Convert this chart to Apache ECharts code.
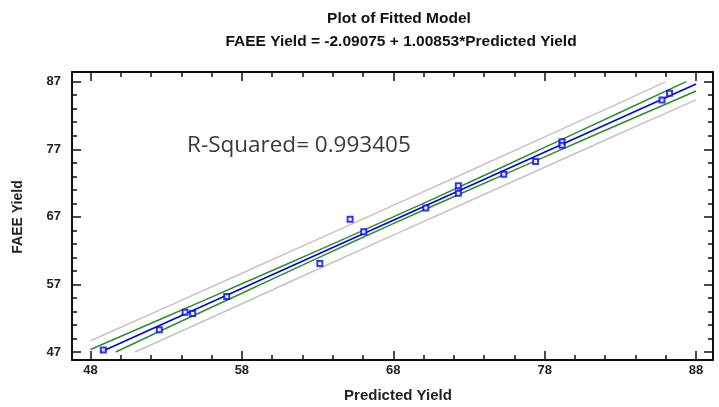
<!DOCTYPE html>
<html>
<head>
<meta charset="utf-8">
<script src="https://cdn.jsdelivr.net/npm/echarts@6/dist/echarts.min.js"></script>
<style>html,body{margin:0;padding:0;background:#fff}#c{width:719px;height:407px}</style>
</head>
<body>
<div id="c"></div>
<script>
// ---- data ----
var predicted = [48.85, 52.55, 54.25, 54.75, 57.0, 63.15, 65.15, 66.05, 70.15, 72.3, 72.3, 75.3, 77.4, 79.15, 79.15, 85.75, 86.25];
var faee      = [47.3, 50.3, 52.9, 52.7, 55.2, 60.1, 66.65, 64.8, 68.3, 71.6, 70.5, 73.3, 75.2, 78.1, 77.6, 84.3, 85.3];

var fitX = [48.67, 88];
var fitY = [47.0, 86.66];

var confUpperX = [48, 53, 58, 63, 68, 73, 78, 83, 87.35];
var confUpperY = [47.37, 52.21, 57.10, 62.00, 66.99, 72.08, 77.28, 82.47, 87.0];
var confLowerX = [49.67, 53, 58, 63, 68, 73, 78, 83, 88];
var confLowerY = [47.0, 50.51, 55.70, 60.90, 65.99, 70.98, 75.88, 80.77, 85.61];

var predUpperX = [48, 53, 58, 63, 68, 73, 78, 83, 86.0];
var predUpperY = [48.67, 53.65, 58.65, 63.66, 68.69, 73.74, 78.83, 83.90, 87.0];
var predLowerX = [50.95, 53, 58, 63, 68, 73, 78, 83, 88];
var predLowerY = [47.0, 49.08, 54.15, 59.24, 64.29, 69.31, 74.33, 79.37, 84.31];

var xTicks = [48, 58, 68, 78, 88];
var xMinor = [50, 52, 54, 56, 60, 62, 64, 66, 70, 72, 74, 76, 80, 82, 84, 86];
var yTicks = [47, 57, 67, 77, 87];
var yMinor = [49, 51, 53, 55, 59, 61, 63, 65, 69, 71, 73, 75, 79, 81, 83, 85];

var titleText = 'Plot of Fitted Model';
var subText = 'FAEE Yield = -2.09075 + 1.00853*Predicted Yield';
var rsqText = 'R-Squared= 0.993405';
var xName = 'Predicted Yield';
var yName = 'FAEE Yield';

var XMIN = 46.78, XMAX = 89.12, YMIN = 45.82, YMAX = 88.43;

function pairs(xs, ys){ return xs.map(function(x,i){ return [x, ys[i]]; }); }

var FF = 'Liberation Sans Narrow, Liberation Sans, Arial';
var labelFont = {fontFamily:FF, fontWeight:'bold', fontSize:13, color:'#222'};

function xAx(pos, vals, len, labels, line){
  return {type:'value', position:pos, min:XMIN, max:XMAX, gridIndex:0,
    axisLine:{show:line, onZero:false, lineStyle:{color:'#111', width:2}},
    axisTick:{show:true, inside:true, length:len, customValues:vals, lineStyle:{color:'#111', width:1.5}},
    axisLabel:labels ? Object.assign({show:true, customValues:vals, margin:4}, labelFont) : {show:false},
    splitLine:{show:false}};
}
function yAx(pos, vals, len, labels, line){
  return {type:'value', position:pos, min:YMIN, max:YMAX, gridIndex:0,
    axisLine:{show:line, onZero:false, lineStyle:{color:'#111', width:2}},
    axisTick:{show:true, inside:true, length:len, customValues:vals, lineStyle:{color:'#111', width:1.5}},
    axisLabel:labels ? Object.assign({show:true, customValues:vals, margin:11}, labelFont) : {show:false},
    splitLine:{show:false}};
}

var chart = echarts.init(document.getElementById('c'), null, {renderer:'canvas'});
chart.setOption({
  animation:false,
  backgroundColor:'#fff',
  title:[
    {text:titleText, left:394, top:6, textAlign:'center',
     textStyle:{fontFamily:FF, fontWeight:'bold', fontSize:15.5, color:'#111'}},
    {text:subText, left:396, top:29, textAlign:'center',
     textStyle:{fontFamily:FF, fontWeight:'bold', fontSize:15.5, color:'#111'}},
    {text:rsqText, left:182, top:129,
     textStyle:{fontFamily:'Open Sans, Noto Sans', fontWeight:'normal', fontSize:22.5, color:'#3a3a3a'}},
    {text:xName, left:393, top:383, textAlign:'center',
     textStyle:{fontFamily:FF, fontWeight:'bold', fontSize:15, color:'#222'}}
  ],
  graphic:[{type:'text', x:18, y:217, rotation:Math.PI/2,
    style:{text:yName, fill:'#222', font:'bold 14px "Liberation Sans Narrow", "Liberation Sans", Arial', align:'center', verticalAlign:'middle'}}],
  grid:{left:72, top:72, width:641, height:288, containLabel:false},
  xAxis:[
    xAx('bottom', xTicks, 9, true, true),
    xAx('bottom', xMinor, 5, false, false),
    xAx('top', xTicks, 9, false, true),
    xAx('top', xMinor, 5, false, false)
  ],
  yAxis:[
    yAx('left', yTicks, 9, true, true),
    yAx('left', yMinor, 5, false, false),
    yAx('right', yTicks, 9, false, true),
    yAx('right', yMinor, 5, false, false)
  ],
  series:[
    {type:'line', data:pairs(predUpperX, predUpperY), showSymbol:false, lineStyle:{color:'#c4c4c4', width:1.5}, z:2},
    {type:'line', data:pairs(predLowerX, predLowerY), showSymbol:false, lineStyle:{color:'#c4c4c4', width:1.5}, z:2},
    {type:'line', data:pairs(confUpperX, confUpperY), smooth:true, showSymbol:false, lineStyle:{color:'#2a8f2a', width:1.5}, z:3},
    {type:'line', data:pairs(confLowerX, confLowerY), smooth:true, showSymbol:false, lineStyle:{color:'#2a8f2a', width:1.5}, z:3},
    {type:'line', data:pairs(fitX, fitY), showSymbol:false, lineStyle:{color:'#0000ee', width:1.5}, z:4},
    {type:'scatter', data:pairs(predicted, faee), symbol:'emptyRect', symbolSize:5,
     itemStyle:{color:'#0000ff', borderColor:'#0000ff', borderWidth:1.2}, z:5}
  ]
});
</script>
</body>
</html>
